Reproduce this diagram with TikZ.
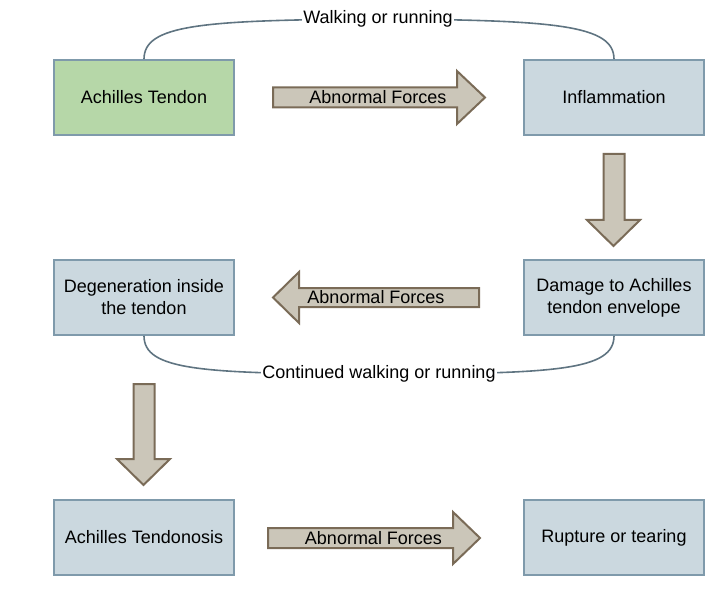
\documentclass[tikz,border=0pt]{standalone}
\usepackage{fontspec}
\setmainfont{Liberation Sans}
\definecolor{boxfill}{HTML}{CBD8DF}
\definecolor{greenfill}{HTML}{B6D7A8}
\definecolor{boxline}{HTML}{7F9AAB}
\definecolor{arrfill}{HTML}{CBC6B9}
\definecolor{arrline}{HTML}{7A6B57}
\definecolor{curveline}{HTML}{5F7481}
\begin{document}
\begin{tikzpicture}[x=0.75pt,y=-0.75pt,
  every node/.style={font=\fontsize{13.5}{16.5}\selectfont},
  box/.style={draw=boxline,line width=1.5pt,fill=boxfill,minimum width=135pt,minimum height=56pt,inner sep=0pt,align=center},
  fatarrow/.style={draw=arrline,line width=1.5pt,fill=arrfill,line join=miter},
  link/.style={draw=curveline,line width=1.2pt},
  lbl/.style={fill=white,inner sep=1pt},
  atext/.style={inner sep=0pt}]
\useasboundingbox (0,0) rectangle (724,595);
% boxes
\node[box,fill=greenfill] (tendon) at (144,97.5) {Achilles Tendon};
\node[box] (inflam) at (614,97.5) {Inflammation};
\node[box] (degen) at (144,297.5) {Degeneration inside\\the tendon};
\node[box] (damage) at (614,297.5) {Damage to Achilles\\tendon envelope};
\node[box] (tendonosis) at (144,537.5) {Achilles Tendonosis};
\node[box] (rupture) at (614,537.5) {Rupture or tearing};
% fat arrows
\draw[fatarrow] (273,87.5) -- (457,87.5) -- (457,71) -- (485,97.5) -- (457,124) -- (457,107.5) -- (273,107.5) -- cycle;
\node[atext] (f1) at (378,97.5) {Abnormal Forces};
\draw[fatarrow] (603.5,154) -- (624.5,154) -- (624.5,220) -- (640,220) -- (613.5,246) -- (587,220) -- (603.5,220) -- cycle;
\draw[fatarrow] (479,288) -- (299,288) -- (299,272) -- (273,297.5) -- (299,323) -- (299,307) -- (479,307) -- cycle;
\node[atext] (f2) at (376,297.5) {Abnormal Forces};
\draw[fatarrow] (133.5,384) -- (154.5,384) -- (154.5,459) -- (170,459) -- (143.5,485) -- (117,459) -- (133.5,459) -- cycle;
\draw[fatarrow] (268,528) -- (453,528) -- (453,512) -- (480,538) -- (453,564) -- (453,548) -- (268,548) -- cycle;
\node[atext] (f3) at (373.5,538) {Abnormal Forces};
% curved links
\coordinate (topmid) at (378,19);
\draw[link] (tendon.north) .. controls (144,25) and (200,20) .. (topmid) .. controls (556,20) and (614,25) .. (inflam.north);
\node[lbl] (walk) at (topmid) {Walking or running};
\coordinate (botmid) at (379,374);
\draw[link] (degen.south) .. controls (144,370) and (200,374) .. (botmid) .. controls (558,374) and (614,370) .. (damage.south);
\node[lbl] (cont) at (botmid) {Continued walking or running};
\end{tikzpicture}
\end{document}
